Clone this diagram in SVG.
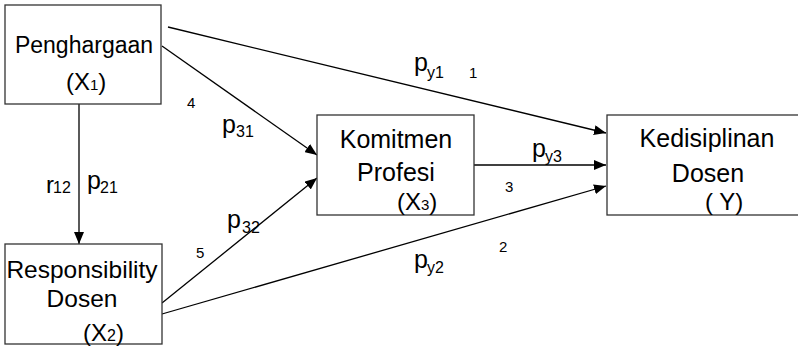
<svg xmlns="http://www.w3.org/2000/svg" width="798" height="347" viewBox="0 0 798 347">
<style>
text{font-family:"Liberation Sans",Arial,sans-serif;fill:#000}
.b{fill:#fff;stroke:#333;stroke-width:1.3}
.t{font-size:25px}
.l{font-size:25px}
.s{font-size:16px}
.n{font-size:15px}
.c{stroke:#000;stroke-width:1.3;fill:none;marker-end:url(#ah)}
</style>
<defs>
<marker id="ah" markerUnits="userSpaceOnUse" markerWidth="13" markerHeight="10" refX="12" refY="5" orient="auto">
<path d="M0,0 L12,5 L0,10 z" fill="#000"/>
</marker>
</defs>
<rect width="798" height="347" fill="#fff"/>
<g id="connectors">
<line class="c" x1="168" y1="27" x2="606" y2="133"/>
<line class="c" x1="162" y1="46" x2="317" y2="155"/>
<line class="c" x1="162" y1="303" x2="317" y2="178"/>
<line class="c" x1="162" y1="314" x2="606" y2="186"/>
<line class="c" x1="474" y1="165" x2="606" y2="165"/>
<line class="c" x1="79" y1="104" x2="79" y2="244"/>
</g>
<g id="node-x1">
<rect class="b" x="5" y="5" width="156" height="99"/>
<text class="t" x="84" y="53" text-anchor="middle" style="font-size:23px">Penghargaan</text>
<text x="66" y="90" style="font-size:24px">(X<tspan style="font-size:15px">1</tspan>)</text>
</g>
<g id="node-x2">
<rect class="b" x="5" y="244" width="157" height="100"/>
<text x="82" y="278" text-anchor="middle" style="font-size:24.5px">Responsibility</text>
<text x="82" y="307" text-anchor="middle" style="font-size:24.5px">Dosen</text>
<text x="83" y="341" style="font-size:24px">(X<tspan style="font-size:16px">2</tspan>)</text>
</g>
<g id="node-x3">
<rect class="b" x="317" y="115" width="157" height="100"/>
<text class="t" x="396" y="148" text-anchor="middle">Komitmen</text>
<text class="t" x="396" y="181" text-anchor="middle">Profesi</text>
<text x="397" y="210" style="font-size:24px">(X<tspan style="font-size:15px">3</tspan>)</text>
</g>
<g id="node-y">
<rect class="b" x="607" y="115" width="200" height="100"/>
<text class="t" x="707" y="147" text-anchor="middle">Kedisiplinan</text>
<text class="t" x="708" y="182" text-anchor="middle">Dosen</text>
<text x="705" y="210" xml:space="preserve" style="font-size:24px">( Y)</text>
</g>
<g id="labels">
<text class="l" x="414" y="71">p</text><text class="s" x="427" y="78">y1</text>
<text class="n" x="469" y="78">1</text>
<text class="n" x="187" y="108">4</text>
<text class="l" x="222" y="133">p</text><text class="s" x="236" y="137">31</text>
<text class="l" x="46" y="193" style="font-size:24px">r</text><text class="s" x="53" y="193">12</text>
<text class="l" x="87" y="189">p</text><text class="s" x="100" y="193">21</text>
<text class="l" x="227" y="228">p</text><text class="s" x="242" y="233">32</text>
<text class="n" x="196" y="258">5</text>
<text class="l" x="532" y="157">p</text><text class="s" x="545" y="162">y3</text>
<text class="n" x="505" y="192">3</text>
<text class="l" x="414" y="268">p</text><text class="s" x="427" y="273">y2</text>
<text class="n" x="499" y="252">2</text>
</g>
</svg>
